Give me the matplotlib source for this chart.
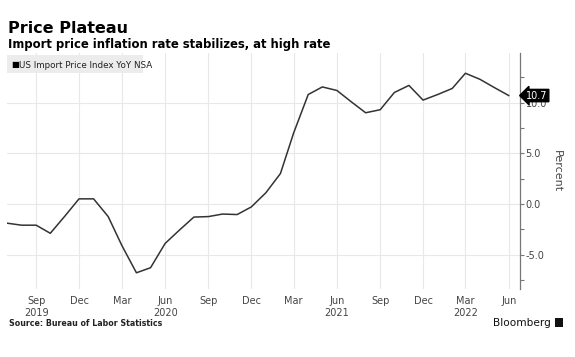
import matplotlib
matplotlib.use('Agg')
import matplotlib.pyplot as plt
import matplotlib.transforms as mtransforms
from matplotlib.patches import Rectangle
import pandas as pd

# monthly YoY % change, Jul 2019 .. Jun 2022
months = pd.date_range('2019-07-01', periods=36, freq='MS')
yoy = [-1.9, -2.1, -2.1, -2.9, -1.2, 0.5,
       0.5, -1.25, -4.1, -6.8, -6.3, -3.9,
       -2.6, -1.3, -1.25, -1.0, -1.05, -0.3,
       1.1, 3.0, 7.0, 10.8, 11.55, 11.2,
       10.1, 9.0, 9.3, 11.0, 11.7, 10.25,
       10.8, 11.4, 12.9, 12.3, 11.5, 10.7]
last_label = '10.7'

tick_dates = pd.date_range('2019-09-01', '2022-06-01', freq='3MS')
tick_labels = ['Sep\n2019', 'Dec', 'Mar', 'Jun\n2020', 'Sep', 'Dec', 'Mar',
               'Jun\n2021', 'Sep', 'Dec', 'Mar\n2022', 'Jun']
y_ticks = [-5.0, 0.0, 5.0, 10.0]
y_minor = [-7.5, -2.5, 2.5, 7.5, 12.5]

W, H = 575, 357
fig = plt.figure(figsize=(W / 100, H / 100), dpi=100)
fig.patch.set_facecolor('white')


def px(x0, y0, x1, y1):
    return [x0 / W, 1 - y1 / H, (x1 - x0) / W, (y1 - y0) / H]


ax = fig.add_axes(px(7, 53, 520, 289))
ax.plot(months, yoy, color='#333333', lw=1.1, solid_joinstyle='round')

ax.set_xlim(pd.Timestamp('2019-07-01'), pd.Timestamp('2022-06-25'))
ax.set_ylim(-8.4, 14.9)

ax.set_xticks(tick_dates)
ax.set_xticklabels(tick_labels)
ax.set_yticks(y_ticks)
ax.set_yticks(y_minor, minor=True)
ax.set_yticklabels(['%.1f' % v for v in y_ticks])
ax.yaxis.tick_right()

for s in ['top', 'left', 'bottom']:
    ax.spines[s].set_visible(False)
ax.spines['right'].set_color('#777777')
ax.spines['right'].set_linewidth(0.9)

ax.grid(True, which='major', color='#e8e8e8', lw=0.8)
ax.set_axisbelow(True)
ax.tick_params(axis='x', length=0, labelsize=7, colors='#444444', pad=5)
ax.tick_params(axis='y', which='major', length=3, width=0.8, color='#777777',
               labelsize=7, labelcolor='#444444', pad=1)
ax.tick_params(axis='y', which='minor', length=3, width=0.8, color='#777777')

ax.yaxis.set_label_position('right')
ax.set_ylabel('Percent', rotation=270, fontsize=8, color='#444444', labelpad=11)

# last value tag
trans = mtransforms.blended_transform_factory(ax.transAxes, ax.transData)
ax.text(1.012, yoy[-1], last_label, transform=trans, fontsize=7, color='white',
        va='center', ha='left', clip_on=False, zorder=5,
        bbox=dict(boxstyle='larrow,pad=0.12', fc='black', ec='black'))

# titles
fig.text(8 / W, 1 - 33 / H, 'Price Plateau', fontsize=11.5, fontweight='bold',
         va='baseline', color='black')
fig.text(8 / W, 1 - 48 / H, 'Import price inflation rate stabilizes, at high rate',
         fontsize=8.4, fontweight='bold', va='baseline', color='black')

# legend box
fig.patches.append(Rectangle((7 / W, 1 - 73 / H), 136 / W, 18 / H,
                             transform=fig.transFigure, fc='#ececec', ec='none'))
fig.text(11.5 / W, 1 - 65 / H, '\u25a0', fontsize=6, va='center', color='black')
fig.text(19 / W, 1 - 65 / H, 'US Import Price Index YoY NSA', fontsize=6.3,
         va='center', color='#222222')

# footer
fig.text(9 / W, 1 - 326 / H, 'Source: Bureau of Labor Statistics', fontsize=5.7,
         fontweight='bold', va='baseline', color='#222222')
fig.text(551 / W, 1 - 326 / H, 'Bloomberg', fontsize=7.6, va='baseline', ha='right',
         color='#111111')
fig.patches.append(Rectangle((555 / W, 1 - 327 / H), 8 / W, 9 / H,
                             transform=fig.transFigure, fc='#111111', ec='none'))

fig.savefig('out.png', dpi=100, facecolor='white')
